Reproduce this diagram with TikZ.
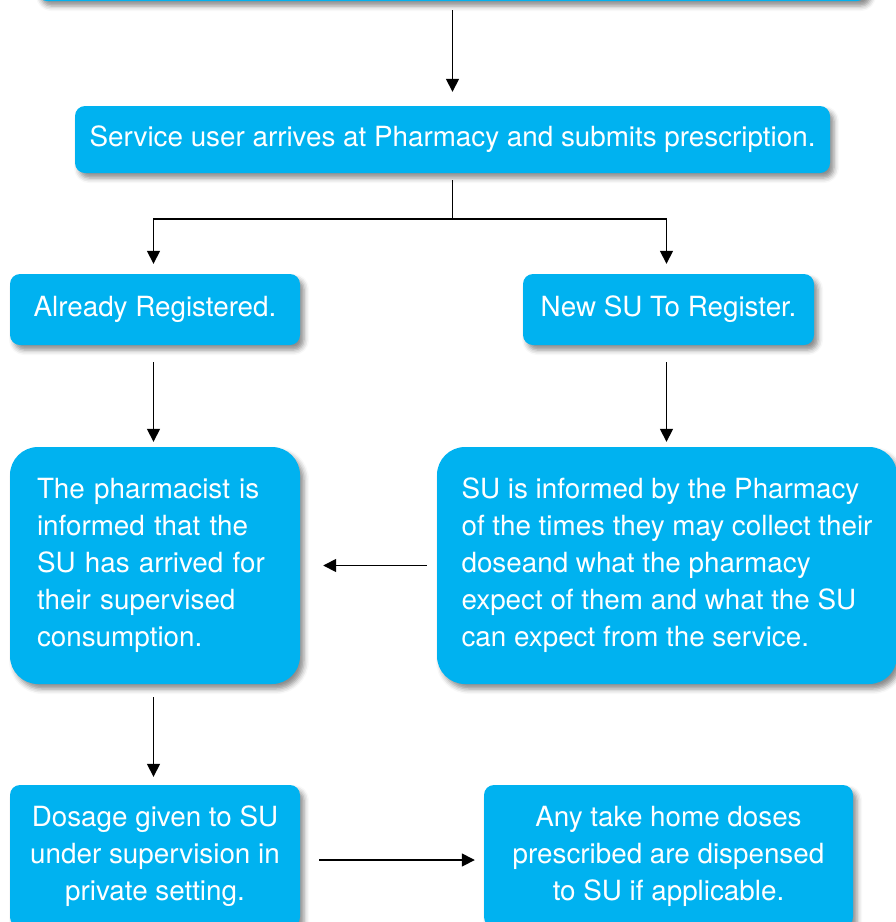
\documentclass[tikz,border=0pt]{standalone}
\usepackage{fontspec}
\setmainfont{TeX Gyre Heros}
\usetikzlibrary{arrows.meta,shadows.blur}
\definecolor{boxblue}{RGB}{0,178,240}
\tikzset{
  box/.style={fill=boxblue, text=white, rounded corners=10pt, inner sep=0pt,
    font=\fontsize{27.8}{37}\selectfont,
    blur shadow={shadow xshift=4pt, shadow yshift=-5pt, shadow opacity=45, shadow blur radius=5pt}},
  bigbox/.style={box, rounded corners=28pt},
  arr/.style={draw=black, line width=1.6pt, -{Triangle[width=13pt,length=13pt]}},
}
\begin{document}
\begin{tikzpicture}[x=1pt,y=-1pt]
\useasboundingbox (0,0) rectangle (896,922);
\clip (0,0) rectangle (896,922);
\node[box, minimum width=830pt, minimum height=70pt] (top) at (452,-34) {};
\node[box, minimum width=755pt, minimum height=67pt] (b2) at (452.5,139.5) {Service user arrives at Pharmacy and submits prescription.};
\node[box, minimum width=290pt, minimum height=71pt] (reg) at (155,309.5) {Already Registered.};
\node[box, minimum width=291pt, minimum height=71pt] (new) at (668.5,309.5) {New SU To Register.};
\node[bigbox, minimum width=290pt, minimum height=237pt, text width=236pt, inner xsep=27pt, align=left] (pharm) at (155,565.5) {The pharmacist is\\informed that the\\SU has arrived for\\their supervised\\consumption.};
\node[bigbox, minimum width=460pt, minimum height=237pt, align=left] (inf) at (667,565.5) {SU is informed by the Pharmacy\\of the times they may collect their\\doseand what the pharmacy\\expect of them and what the SU\\can expect from the service.};
\node[box, minimum width=290pt, minimum height=142pt, align=center] (dose) at (155,856) {Dosage given to SU\\under supervision in\\private setting.};
\node[box, minimum width=369pt, minimum height=142pt, align=center] (home) at (668.5,856) {Any take home doses\\prescribed are dispensed\\to SU if applicable.};
% connectors
\draw[arr, shorten <=9pt, shorten >=14pt] (top.south -| b2.north) -- (b2.north);
\draw[arr, shorten <=7pt, shorten >=10pt] (b2.south) -- ++(0,46) -| ([xshift=-1.5pt]reg.north);
\draw[arr, shorten <=7pt, shorten >=10pt] (b2.south) -- ++(0,46) -| ([xshift=-2pt]new.north);
\draw[arr, shorten <=17pt, shorten >=5pt] ([xshift=-1.5pt]reg.south) -- ([xshift=-1.5pt]pharm.north);
\draw[arr, shorten <=17pt, shorten >=5pt] ([xshift=-2pt]new.south) -- ([xshift=-2pt]new.south |- inf.north);
\draw[arr, shorten <=10pt, shorten >=23pt] (inf.west) -- (pharm.east);
\draw[arr, shorten <=13pt, shorten >=8pt] ([xshift=-1.5pt]pharm.south) -- ([xshift=-1.5pt]dose.north);
\draw[arr, shorten <=19pt, shorten >=9pt] ([yshift=-4pt]dose.east) -- ([yshift=-4pt]dose.east -| home.west);
\end{tikzpicture}
\end{document}
